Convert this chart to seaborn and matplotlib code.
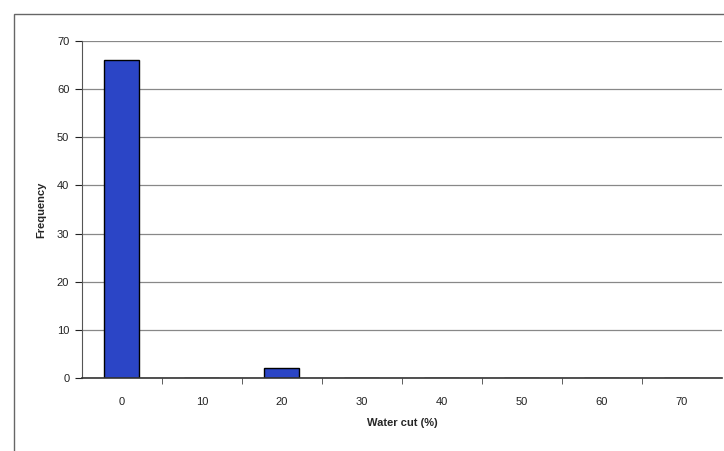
import pandas as pd
import matplotlib.pyplot as plt
import seaborn as sns
from matplotlib.patches import Rectangle

water_cut = [0, 10, 20, 30, 40, 50, 60, 70]
frequency = [66, 0, 2, 0, 0, 0, 0, 0]

df = pd.DataFrame({'water_cut': [str(w) for w in water_cut], 'frequency': frequency})

sns.set_style("white")
plt.rcParams['font.family'] = ['Liberation Sans', 'DejaVu Sans']

fig = plt.figure(figsize=(7.24, 4.51), dpi=100)
ax = fig.add_axes([0.113, 0.162, 0.884, 0.747])

sns.barplot(data=df, x='water_cut', y='frequency', color='#2b45c6', edgecolor='black',
            linewidth=1.0, width=0.44, saturation=1, ax=ax)

ax.set_ylim(0, 70)
ax.set_xlim(-0.5, 7.5)
ax.set_yticks(range(0, 71, 10))
ax.yaxis.grid(True, color='#888888', linewidth=0.9)
ax.set_axisbelow(True)
for s in ['top', 'right']:
    ax.spines[s].set_visible(False)
ax.spines['left'].set_color('#555555')
ax.spines['bottom'].set_color('#333333')
ax.spines['bottom'].set_linewidth(1.2)

# category boundary ticks on the x axis, like the Excel original
ax.set_xticks([i + 0.5 for i in range(len(water_cut) - 1)], minor=True)
ax.tick_params(axis='x', which='minor', bottom=True, length=4, color='#444444')
ax.tick_params(axis='x', which='major', bottom=False, labelsize=8, pad=10, colors='#222222')
ax.tick_params(axis='y', left=True, length=5, labelsize=8, colors='#222222', pad=4)

ax.set_xlabel('Water cut (%)', fontsize=8, fontweight='bold', labelpad=8)
ax.set_ylabel('Frequency', fontsize=8, fontweight='bold', labelpad=8)

fig.patches.append(Rectangle((14 / 724, -0.01), 1.0, 1 - 14 / 451 + 0.01,
                             transform=fig.transFigure, fill=False,
                             edgecolor='#666666', linewidth=1.0))

plt.savefig("out.png", dpi=100)
